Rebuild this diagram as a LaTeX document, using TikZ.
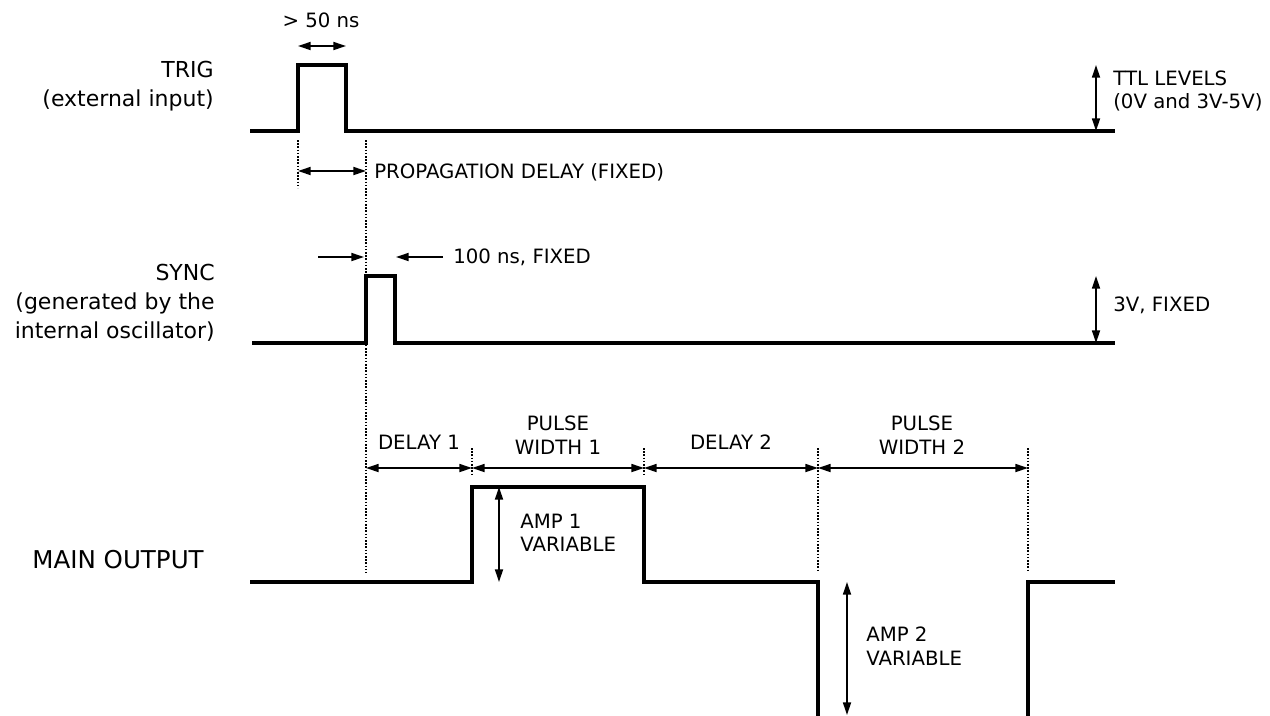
\documentclass[tikz,border=0pt]{standalone}
\usepackage{fontspec}
\setmainfont{DejaVu Sans}
\usetikzlibrary{arrows.meta}
\begin{document}
\begin{tikzpicture}[x=0.75pt,y=-0.75pt,
  wave/.style={line width=2.4pt,line join=miter},
  dim/.style={line width=1.3pt,{Triangle[length=9.5pt,width=6pt]}-{Triangle[length=9.5pt,width=6pt]}},
  onearrow/.style={line width=1.3pt,-{Triangle[length=9.5pt,width=6pt]}},
  guide/.style={line width=0.8pt,dash pattern=on 1.2pt off 1.2pt},
  biglab/.style={font=\fontsize{16.5pt}{21.75pt}\selectfont,align=right,anchor=east,inner sep=0pt},
  lab/.style={font=\fontsize{14.8pt}{17.6pt}\selectfont,inner sep=0pt},
  clab/.style={lab,align=center},
  llab/.style={lab,align=left,anchor=west}]
\useasboundingbox[fill=white] (0,0) rectangle (1270,715);

% ---------- left labels ----------
\node[biglab] (ltrig) at (214,86) {TRIG\\(external input)};
\node[biglab] (lsync) at (215,303) {SYNC\\(generated by the\\internal oscillator)};
\node[biglab,font=\fontsize{18.4pt}{22pt}\selectfont] (lmain) at (204,560) {MAIN OUTPUT};

% ---------- TRIG ----------
\coordinate (t0) at (250,131);
\coordinate (t1) at (298,131);
\coordinate (t2) at (298,65);
\coordinate (t3) at (346,65);
\coordinate (t4) at (346,131);
\coordinate (t5) at (1115,131);
\draw[wave] (t0) -- (t1) -- (t2) -- (t3) -- (t4) -- (t5);

\coordinate (w50a) at (298,46);
\coordinate (w50b) at (346,46);
\draw[dim] (w50a) -- (w50b);
\node[lab] (l50) at (321,20) {> 50 ns};

\coordinate (ttla) at (1096,65);
\coordinate (ttlb) at (1096,131);
\draw[dim] (ttla) -- (ttlb);
\node[llab] (lttl) at (1113,91) {TTL LEVELS\\(0V and 3V-5V)};

% guides
\coordinate (g1a) at (298,140);
\coordinate (g1b) at (298,188);
\draw[guide] (g1a) -- (g1b);
\coordinate (g2a) at (366,140);
\coordinate (g2b) at (366,573);
\draw[guide] (g2a) -- (g2b);

\coordinate (pda) at (298,171);
\coordinate (pdb) at (366,171);
\draw[dim] (pda) -- (pdb);
\node[llab] (lpd) at (374,172) {PROPAGATION DELAY (FIXED)};

% ---------- SYNC ----------
\coordinate (s0) at (252,343);
\coordinate (s1) at (366,343);
\coordinate (s2) at (366,276);
\coordinate (s3) at (395,276);
\coordinate (s4) at (395,343);
\coordinate (s5) at (1115,343);
\draw[wave] (s0) -- (s1) -- (s2) -- (s3) -- (s4) -- (s5);

\coordinate (sa1) at (318,257);
\coordinate (sa2) at (364,257);
\draw[onearrow] (sa1) -- (sa2);
\coordinate (sb1) at (443,257);
\coordinate (sb2) at (396,257);
\draw[onearrow] (sb1) -- (sb2);
\node[llab] (l100) at (453,257) {100 ns, FIXED};

\coordinate (v3a) at (1096,276);
\coordinate (v3b) at (1096,343);
\draw[dim] (v3a) -- (v3b);
\node[llab] (l3v) at (1113,305) {3V, FIXED};

% ---------- MAIN OUTPUT ----------
\coordinate (m0) at (250,582);
\coordinate (m1) at (472,582);
\coordinate (m2) at (472,487);
\coordinate (m3) at (644,487);
\coordinate (m4) at (644,582);
\coordinate (m5) at (818,582);
\coordinate (m6) at (818,716);
\draw[wave] (m0) -- (m1) -- (m2) -- (m3) -- (m4) -- (m5) -- (m6);
\coordinate (n0) at (1028,716);
\coordinate (n1) at (1028,582);
\coordinate (n2) at (1115,582);
\draw[wave] (n0) -- (n1) -- (n2);

% guides for main output
\coordinate (h1a) at (472,448);
\coordinate (h1b) at (472,476);
\draw[guide] (h1a) -- (h1b);
\coordinate (h2a) at (644,448);
\coordinate (h2b) at (644,476);
\draw[guide] (h2a) -- (h2b);
\coordinate (h3a) at (818,448);
\coordinate (h3b) at (818,572);
\draw[guide] (h3a) -- (h3b);
\coordinate (h4a) at (1028,448);
\coordinate (h4b) at (1028,572);
\draw[guide] (h4a) -- (h4b);

% dimension arrows
\coordinate (d0) at (366,468);
\coordinate (d1) at (472,468);
\coordinate (d2) at (644,468);
\coordinate (d3) at (818,468);
\coordinate (d4) at (1028,468);
\draw[dim] (d0) -- (d1);
\draw[dim] (d1) -- (d2);
\draw[dim] (d2) -- (d3);
\draw[dim] (d3) -- (d4);

\node[clab] (ld1) at (419,442) {DELAY 1};
\node[clab] (lpw1) at (558,435) {PULSE\\WIDTH 1};
\node[clab] (ld2) at (731,442) {DELAY 2};
\node[clab] (lpw2) at (922,435) {PULSE\\WIDTH 2};

% amplitudes
\coordinate (a1a) at (499,487);
\coordinate (a1b) at (499,582);
\draw[dim] (a1a) -- (a1b);
\node[llab] (la1) at (520,533) {AMP 1\\VARIABLE};

\coordinate (a2a) at (847,582);
\coordinate (a2b) at (847,715);
\draw[dim] (a2a) -- (a2b);
\node[llab] (la2) at (866,646) {AMP 2\\VARIABLE};
\end{tikzpicture}
\end{document}
